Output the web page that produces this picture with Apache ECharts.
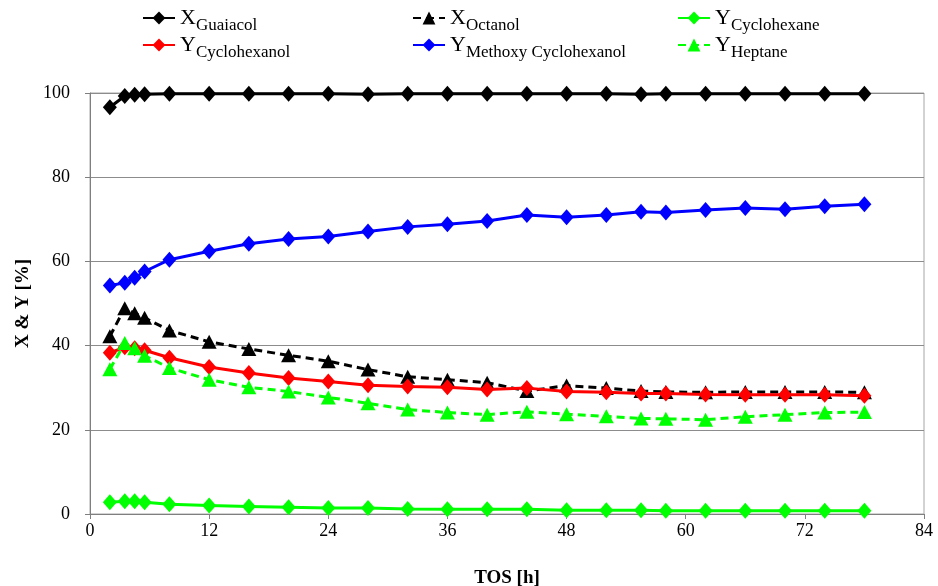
<!DOCTYPE html>
<html>
<head>
<meta charset="utf-8">
<script src="https://cdn.jsdelivr.net/npm/echarts@6/dist/echarts.min.js"></script>
<style>
  html, body { margin: 0; padding: 0; background: #fff; }
  #chart { width: 938px; height: 586px; }
</style>
</head>
<body>
<div id="chart"></div>
<script>
// Time on stream [h]
const tos = [2, 3.5, 4.5, 5.5, 8, 12, 16, 20, 24, 28, 32, 36, 40, 44, 48, 52, 55.5, 58, 62, 66, 70, 74, 78];

// Conversions and yields [%]
const xGuaiacol = [96.6, 99.3, 99.6, 99.7, 99.8, 99.8, 99.8, 99.8, 99.8, 99.7, 99.8, 99.8, 99.8, 99.8, 99.8, 99.8, 99.7, 99.8, 99.8, 99.8, 99.8, 99.8, 99.8];
const xOctanol = [42.2, 48.9, 47.7, 46.6, 43.6, 40.9, 39.2, 37.7, 36.3, 34.3, 32.6, 31.9, 31.2, 29.2, 30.5, 29.9, 29.2, 29.0, 28.9, 29.0, 29.0, 29.0, 28.9];
const yCyclohexane = [2.8, 3.0, 3.0, 2.8, 2.3, 2.0, 1.8, 1.6, 1.4, 1.4, 1.2, 1.1, 1.1, 1.1, 0.9, 0.9, 0.9, 0.8, 0.8, 0.8, 0.8, 0.8, 0.8];
const yCyclohexanol = [38.3, 39.6, 39.4, 38.9, 37.1, 34.9, 33.5, 32.3, 31.5, 30.6, 30.3, 30.1, 29.6, 29.9, 29.1, 28.9, 28.6, 28.6, 28.4, 28.3, 28.3, 28.3, 28.1];
const yMethoxyCyclohexanol = [54.3, 54.9, 56.1, 57.6, 60.4, 62.4, 64.2, 65.3, 65.9, 67.1, 68.2, 68.8, 69.6, 71.0, 70.5, 71.0, 71.8, 71.6, 72.2, 72.7, 72.4, 73.1, 73.6];
const yHeptane = [34.4, 40.6, 39.4, 37.6, 34.7, 31.9, 30.1, 29.1, 27.7, 26.3, 24.8, 24.1, 23.6, 24.3, 23.7, 23.2, 22.7, 22.6, 22.4, 23.1, 23.6, 24.1, 24.2];

// Series names: symbol + subscript
const names = {
  guaiacol: 'X Guaiacol',
  octanol: 'X Octanol',
  cyclohexane: 'Y Cyclohexane',
  cyclohexanol: 'Y Cyclohexanol',
  methoxy: 'Y Methoxy Cyclohexanol',
  heptane: 'Y Heptane'
};

const xTicks = [0, 12, 24, 36, 48, 60, 72, 84];
const yTicks = [0, 20, 40, 60, 80, 100];

const serif = '"Liberation Serif", "Times New Roman", serif';

function pairs(ys) {
  return tos.map((t, i) => [t, ys[i]]);
}

function lineSeries(name, ys, color, dashed, symbol, z) {
  return {
    name: name,
    type: 'line',
    data: pairs(ys),
    symbol: symbol,
    symbolSize: symbol === 'diamond' ? [14, 16] : [15, 14],
    showSymbol: true,
    z: z,
    lineStyle: { color: color, width: 3, type: dashed ? [8, 5] : 'solid' },
    itemStyle: { color: color, borderWidth: 0 },
    emphasis: { disabled: true }
  };
}

const legendBase = {
  orient: 'vertical',
  top: 2,
  itemWidth: 32,
  itemHeight: 16,
  itemGap: 0,
  selectedMode: false,
  formatter: n => '{b|' + n[0] + '}{s|' + n.slice(2) + '}',
  textStyle: {
    color: '#000',
    fontFamily: serif,
    rich: {
      b: { fontSize: 22, fontFamily: serif, color: '#000' },
      s: { fontSize: 17, fontFamily: serif, color: '#000', padding: [15, 0, 0, 0] }
    }
  }
};

const chart = echarts.init(document.getElementById('chart'), null, { renderer: 'canvas' });
chart.setOption({
  animation: false,
  backgroundColor: '#fff',
  legend: [
    Object.assign({}, legendBase, { left: 137, data: [names.guaiacol, names.cyclohexanol] }),
    Object.assign({}, legendBase, { left: 407, data: [names.octanol, names.methoxy] }),
    Object.assign({}, legendBase, { left: 672, data: [names.cyclohexane, names.heptane] })
  ],
  grid: {
    left: 90, right: 14, top: 93, bottom: 72,
    outerBoundsMode: 'none',
    containLabel: false,
    show: true, borderColor: '#a6a6a6', borderWidth: 1
  },
  xAxis: {
    type: 'value',
    min: xTicks[0], max: xTicks[xTicks.length - 1], interval: 12,
    name: 'TOS [h]',
    nameLocation: 'middle',
    nameGap: 55,
    nameTextStyle: { fontFamily: serif, fontSize: 19, fontWeight: 'bold', color: '#000' },
    axisLine: { lineStyle: { color: '#7f7f7f', width: 1 } },
    axisTick: { show: true, inside: false, length: 5, lineStyle: { color: '#7f7f7f' } },
    axisLabel: { fontFamily: serif, fontSize: 18, color: '#000', margin: 8 },
    splitLine: { show: false }
  },
  yAxis: {
    type: 'value',
    min: yTicks[0], max: yTicks[yTicks.length - 1], interval: 20,
    name: 'X & Y [%]',
    nameLocation: 'middle',
    nameGap: 54,
    nameTextStyle: { fontFamily: serif, fontSize: 19, fontWeight: 'bold', color: '#000' },
    axisLine: { show: true, lineStyle: { color: '#7f7f7f', width: 1 } },
    axisTick: { show: true, inside: false, length: 5, lineStyle: { color: '#7f7f7f' } },
    axisLabel: { fontFamily: serif, fontSize: 18, color: '#000', margin: 20 },
    splitLine: { show: true, lineStyle: { color: '#8c8c8c', width: 1 } }
  },
  series: [
    lineSeries(names.guaiacol, xGuaiacol, '#000000', false, 'diamond', 6),
    lineSeries(names.cyclohexanol, yCyclohexanol, '#ff0000', false, 'diamond', 4),
    lineSeries(names.octanol, xOctanol, '#000000', true, 'triangle', 3),
    lineSeries(names.methoxy, yMethoxyCyclohexanol, '#0000ff', false, 'diamond', 6),
    lineSeries(names.cyclohexane, yCyclohexane, '#00ff00', false, 'diamond', 6),
    lineSeries(names.heptane, yHeptane, '#00ff00', true, 'triangle', 5)
  ]
});
</script>
</body>
</html>
